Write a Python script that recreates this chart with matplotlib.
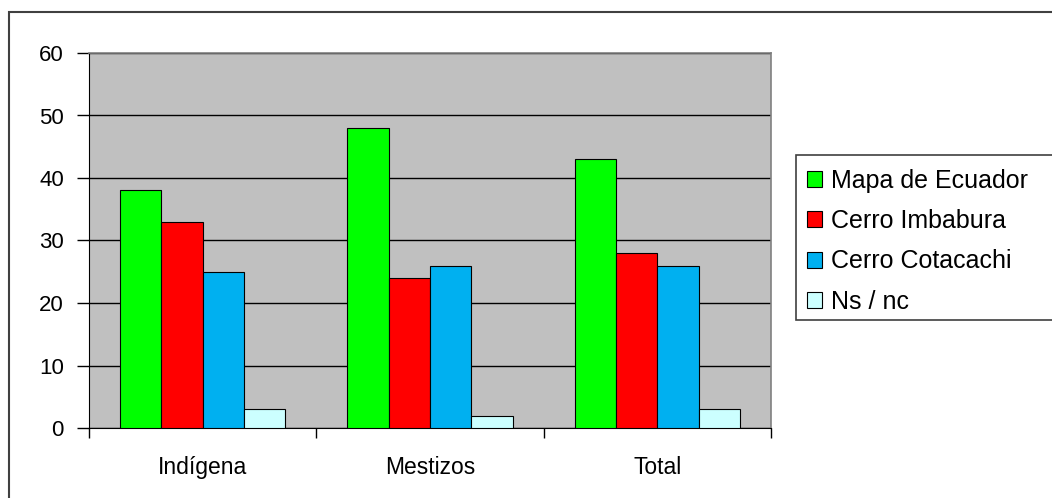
import matplotlib
matplotlib.use("Agg")
import matplotlib.pyplot as plt
import numpy as np
from matplotlib.patches import Rectangle, Patch

plt.rcParams['font.family'] = ['Liberation Sans', 'DejaVu Sans']

categories = ["Indígena", "Mestizos", "Total"]
series_names = ["Mapa de Ecuador", "Cerro Imbabura", "Cerro Cotacachi", "Ns / nc"]
mapa = [38, 48, 43]
imbabura = [33, 24, 28]
cotacachi = [25, 26, 26]
nsnc = [3, 2, 3]
yticks = [0, 10, 20, 30, 40, 50, 60]

values = [mapa, imbabura, cotacachi, nsnc]
colors = ["#00FF00", "#FF0000", "#00B0F0", "#CCFFFF"]

fig = plt.figure(figsize=(10.52, 4.98), dpi=100)
ax = fig.add_axes([89/1052, 70/498, (771-89)/1052, (428-53)/498])
ax.set_facecolor("#C0C0C0")

w = 1/5.5
x = np.arange(len(categories))
for i, (vals, c) in enumerate(zip(values, colors)):
    ax.bar(x - 2*w + i*w + w/2, vals, width=w, color=c, edgecolor="black",
           linewidth=0.8, zorder=3, label=series_names[i])

ax.set_xlim(-0.5, len(categories) - 0.5)
ax.set_ylim(0, 60)
ax.set_yticks(yticks)
ax.set_yticklabels([str(t) for t in yticks], fontsize=16)
ax.yaxis.grid(True, color="black", linewidth=1.0, zorder=1)
ax.set_axisbelow(True)
ax.tick_params(axis='y', length=9, width=1, pad=9, direction='out')
ax.set_xticks(x)
ax.set_xticklabels(categories, fontsize=16.5)
ax.tick_params(axis='x', length=0, pad=20)
ax.set_xticks(np.arange(len(categories) + 1) - 0.5, minor=True)
ax.tick_params(axis='x', which='minor', length=7, width=1, direction='out')
for side in ["top", "right"]:
    ax.spines[side].set_color("#808080")
    ax.spines[side].set_linewidth(1.2)
ax.spines["left"].set_color("black")
ax.spines["bottom"].set_color("black")

# outer chart border
fig.patches.append(Rectangle((9/1052, -0.1), 1.2, 1 - 12/498 + 0.1,
                             transform=fig.transFigure, fill=False,
                             edgecolor="#404040", linewidth=1.5))

# legend border
fig.patches.append(Rectangle((796/1052, 1 - 320/498), 0.5, (320-155)/498,
                             transform=fig.transFigure, fill=True, facecolor="white",
                             edgecolor="#404040", linewidth=1.2, zorder=0))
handles = [Patch(facecolor=c, edgecolor="black", linewidth=0.8) for c in colors]
fig.legend(handles, series_names, loc="upper left",
           bbox_to_anchor=(797/1052, 1 - 159/498), frameon=False,
           fontsize=18, handlelength=0.6, handleheight=0.6,
           handletextpad=0.35, labelspacing=0.65, borderaxespad=0)

fig.savefig("out.png", dpi=100)
